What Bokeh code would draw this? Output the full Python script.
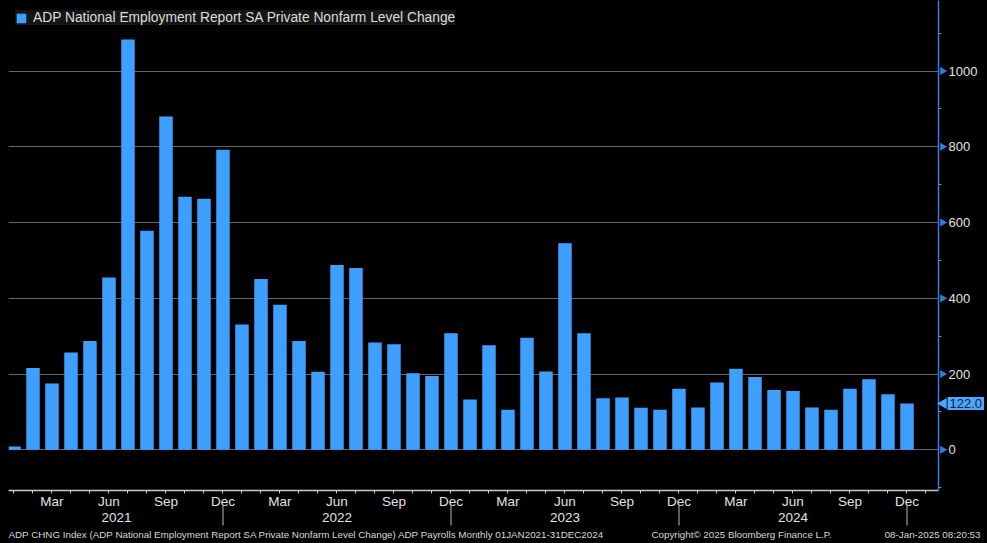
import math
from bokeh.plotting import figure
from bokeh.models import (Range1d, LinearAxis, FixedTicker, Legend, LegendItem,
                          ColumnDataSource)
from bokeh.core.properties import value
from bokeh.embed import file_html
from bokeh.resources import INLINE

try:
    from bokeh.models import GlobalInlineStyleSheet
except Exception:
    GlobalInlineStyleSheet = None

# ---------------- data ----------------
month_names = ["Jan", "Feb", "Mar", "Apr", "May", "Jun",
               "Jul", "Aug", "Sep", "Oct", "Nov", "Dec"]
years = ["2021", "2022", "2023", "2024"]
labeled_months = ["Mar", "Jun", "Sep", "Dec"]

# ADP private nonfarm level change (thousands), Jan 2021 .. Dec 2024
values = [9, 216, 175, 257, 287, 455, 1083, 578, 880, 668, 663, 792,
          331, 451, 383, 287, 206, 488, 480, 283, 279, 202, 195, 308,
          133, 276, 106, 296, 207, 545, 308, 136, 138, 111, 106, 161,
          112, 178, 214, 192, 158, 155, 112, 106, 161, 186, 147, 122]

y_ticks = [0, 200, 400, 600, 800, 1000]
y_minor = [-100, 100, 300, 500, 700, 900, 1100]

series_name = "ADP National Employment Report SA Private Nonfarm Level Change"
footer_left = ("ADP CHNG Index (ADP National Employment Report SA Private Nonfarm Level Change) "
               "ADP Payrolls  Monthly 01JAN2021-31DEC2024")
footer_mid = "Copyright\u00a9 2025 Bloomberg Finance L.P."
footer_right = "08-Jan-2025 08:20:53"

# ---------------- derived ----------------
month_index = list(range(len(values)))
tick_months = list(range(len(values) + 1))
year_centers = [5.4, 17, 29, 41]
year_dividers = [11, 23, 35, 47]

# ---------------- layout ----------------
W, H = 987, 543
FL, FR, FT, FB = 8, 938, 0, 490
FRAME_W, FRAME_H = FR - FL, FB - FT
PXM = 19.0          # px per month
PXY = 0.3788        # px per unit
x0 = -0.289
x1 = x0 + FRAME_W / PXM
y0 = -107.4
y1 = y0 + FRAME_H / PXY

BAR = "#3f9fff"
AXBLUE = "#2f7fdf"
LBLUE = "#4da6ff"
TXT = "#e2e2e2"
FONT = "Liberation Sans"

p = figure(width=W, height=H, x_range=Range1d(x0, x1), y_range=Range1d(y0, y1),
           output_backend="svg", toolbar_location=None,
           background_fill_color="black", border_fill_color="black",
           outline_line_color=None,
           min_border_left=FL, min_border_right=W - FR,
           min_border_top=FT, min_border_bottom=H - FB,
           x_axis_location=None, y_axis_location=None)

if GlobalInlineStyleSheet is not None:
    p.stylesheets = [GlobalInlineStyleSheet(
        css="html, body { background: #000; margin: 0; padding: 0; overflow: hidden; }")]

p.xgrid.visible = False
p.ygrid.ticker = FixedTicker(ticks=y_ticks)
p.ygrid.grid_line_color = "#666666"
p.ygrid.grid_line_width = 1

src = ColumnDataSource(dict(x=month_index, top=values))
bars = p.vbar(x="x", top="top", bottom=0, width=0.71, source=src,
              fill_color=BAR, line_color=None)

# right value axis
yax = LinearAxis(ticker=FixedTicker(ticks=y_ticks, minor_ticks=y_minor),
                 axis_line_color=AXBLUE, axis_line_width=1.5,
                 major_tick_line_color=None, major_tick_out=0, major_tick_in=0,
                 minor_tick_line_color="#5b8fd0", minor_tick_out=3, minor_tick_in=0,
                 major_label_standoff=7, major_label_text_color=TXT,
                 major_label_text_font=FONT, major_label_text_font_size="13px")
p.add_layout(yax, "right")

# month axis
overrides = {}
for i in tick_months:
    name = month_names[i % 12]
    overrides[i] = name if name in labeled_months else ""
xax = LinearAxis(ticker=FixedTicker(ticks=tick_months, minor_ticks=[]),
                 major_label_overrides=overrides,
                 axis_line_color="#c8c8c8", axis_line_width=1.5,
                 major_tick_line_color="#c8c8c8", major_tick_out=3, major_tick_in=0,
                 minor_tick_line_color=None, major_label_standoff=0,
                 major_label_text_color=TXT, major_label_text_font=FONT,
                 major_label_text_font_size="13.5px")
p.add_layout(xax, "below")

# year axis
yrax = LinearAxis(ticker=FixedTicker(ticks=year_centers, minor_ticks=[]),
                  major_label_overrides=dict(zip(year_centers, years)),
                  axis_line_color=None, major_tick_line_color=None,
                  minor_tick_line_color=None,
                  major_tick_out=0, major_tick_in=0, minor_tick_out=0, minor_tick_in=0,
                  major_label_standoff=1, major_label_text_color=TXT,
                  major_label_text_font=FONT, major_label_text_font_size="13.5px")
p.add_layout(yrax, "below")

# year dividers below the month labels
p.segment(x0=year_dividers, x1=year_dividers,
          y0=[y0 - 15 / PXY] * len(year_dividers), y1=[y0 - 35 / PXY] * len(year_dividers),
          line_color="#bdbdbd", line_width=1, level="overlay")

# triangle markers on the right axis
p.scatter(x=[x1 + 4 / PXM] * len(y_ticks), y=y_ticks, marker="triangle",
          angle=-math.pi / 2, size=8, fill_color=AXBLUE, line_color=None, level="overlay")

# last value tag
last = values[-1]
p.scatter(x=[x1 + 5 / PXM], y=[last], marker="triangle", angle=math.pi / 2, size=11,
          fill_color=LBLUE, line_color=None, level="overlay")
p.text(x=[x1 + 9 / PXM], y=[last], text=[f"{last:.1f}"], text_baseline="middle",
       text_align="left", text_color="#0a2240", text_font=value(FONT),
       text_font_size="13px", background_fill_color=LBLUE, padding=2, level="overlay")

# legend
legend = Legend(items=[LegendItem(label=series_name, renderers=[bars])],
                location=(7, 465), padding=6, margin=0,
                glyph_width=12, glyph_height=12, label_height=15, label_standoff=6,
                background_fill_color="#151515", background_fill_alpha=1.0,
                border_line_color=None, label_text_color="#dcdcdc",
                label_text_font=FONT, label_text_font_size="13.8px")
p.add_layout(legend)

# footer
fy = y0 - 44 / PXY
p.text(x=[x0 + 0 / PXM, x0 + 643 / PXM], y=[fy, fy], text=[footer_left, footer_mid],
       text_align="left", text_baseline="middle", text_color="#d8d8d8",
       text_font=value(FONT), text_font_size="9.8px", level="overlay")
p.text(x=[x0 + 972 / PXM], y=[fy], text=[footer_right],
       text_align="right", text_baseline="middle", text_color="#d8d8d8",
       text_font=value(FONT), text_font_size="9.8px", level="overlay")

open("out.html", "w").write(file_html(p, INLINE))
